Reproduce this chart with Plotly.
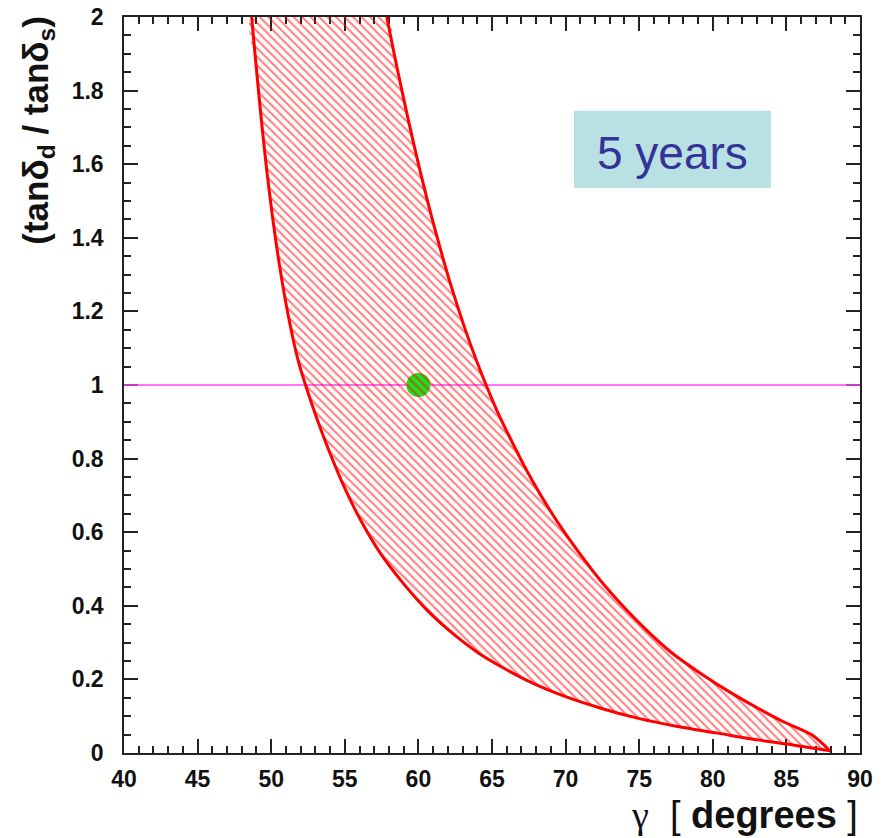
import plotly.graph_objects as go

# Allowed band: lower edge (left curve) and upper edge (right curve)
lower_gamma = [48.67, 48.98, 49.31, 49.67, 50.09, 50.58, 51.17, 51.82, 52.33, 53.18,
               54.00, 54.95, 56.07, 57.41, 58.97, 60.79, 62.60, 64.10, 65.60, 67.80,
               70.00, 72.45, 74.95, 77.60, 80.30, 83.15, 85.45, 87.96]
lower_ratio = [2.000, 1.865, 1.729, 1.593, 1.457, 1.321, 1.186, 1.068, 1.000, 0.900,
               0.814, 0.724, 0.633, 0.543, 0.461, 0.380, 0.316, 0.271, 0.235, 0.189,
               0.153, 0.121, 0.094, 0.072, 0.054, 0.035, 0.022, 0.006]

upper_gamma = [57.85, 58.35, 59.02, 59.62, 60.21, 60.90, 61.51, 62.17, 63.12, 63.93,
               64.60, 65.32, 66.18, 67.34, 68.38, 69.66, 70.94, 72.34, 73.72, 75.50,
               77.25, 79.00, 81.30, 83.10, 84.80, 86.70, 87.96]
upper_ratio = [2.000, 1.901, 1.774, 1.666, 1.566, 1.457, 1.367, 1.276, 1.158, 1.068,
               1.000, 0.932, 0.860, 0.769, 0.696, 0.615, 0.543, 0.470, 0.407, 0.334,
               0.271, 0.221, 0.162, 0.121, 0.085, 0.050, 0.006]

# Reference point and reference line
point_gamma = [60.0]
point_ratio = [1.0]
ref_gamma = [40.0, 90.0]
ref_ratio = [1.0, 1.0]

# Axis ticks
x_ticks = [40, 45, 50, 55, 60, 65, 70, 75, 80, 85, 90]
x_labels = ["40", "45", "50", "55", "60", "65", "70", "75", "80", "85", "90"]
y_ticks = [0, 0.2, 0.4, 0.6, 0.8, 1.0, 1.2, 1.4, 1.6, 1.8, 2.0]
y_labels = ["0", "0.2", "0.4", "0.6", "0.8", "1", "1.2", "1.4", "1.6", "1.8", "2"]

label_text = "5 years"
label_box = [70.57, 83.95, 1.535, 1.745]  # x0, x1, y0, y1

fig = go.Figure()

fig.add_trace(go.Scatter(x=ref_gamma, y=ref_ratio, mode="lines",
                         line=dict(color="#ff44ff", width=1.5), hoverinfo="skip"))

fig.add_trace(go.Scatter(x=point_gamma, y=point_ratio, mode="markers",
                         marker=dict(color="#22dd22", size=24, line=dict(width=0))))

band_x = lower_gamma + upper_gamma[::-1] + [lower_gamma[0]]
band_y = lower_ratio + upper_ratio[::-1] + [lower_ratio[0]]
fig.add_trace(go.Scatter(x=band_x, y=band_y, mode="lines", fill="toself",
                         line=dict(width=0, color="rgba(0,0,0,0)", shape="spline",
                                   smoothing=0.8),
                         fillcolor="rgba(0,0,0,0)",
                         fillpattern=dict(shape="\\", fgcolor="#ff0000",
                                          bgcolor="rgba(0,0,0,0)", size=6,
                                          solidity=0.35)))

for gx, gy in ((lower_gamma, lower_ratio), (upper_gamma, upper_ratio)):
    fig.add_trace(go.Scatter(x=gx, y=gy, mode="lines",
                             line=dict(color="#ff0000", width=3, shape="spline",
                                       smoothing=0.8)))

fig.add_shape(type="rect", xref="x", yref="y",
              x0=label_box[0], x1=label_box[1], y0=label_box[2], y1=label_box[3],
              fillcolor="#b9e0e3", line=dict(width=0), layer="below")
fig.add_annotation(x=(label_box[0] + label_box[1]) / 2,
                   y=(label_box[2] + label_box[3]) / 2,
                   xref="x", yref="y", text=label_text, showarrow=False,
                   font=dict(family="Liberation Sans, Arial", size=46, color="#333399"),
                   yshift=-4)

axis_common = dict(
    ticks="inside", ticklen=14, tickwidth=1.5, tickcolor="#222",
    showline=True, linewidth=1.5, linecolor="#222", mirror="allticks",
    showgrid=False, zeroline=False, automargin=False, layer="below traces",
    tickfont=dict(family="Liberation Sans, Arial", size=23, color="#111", weight="bold"),
)

fig.update_xaxes(range=[40, 90], tickmode="array", tickvals=x_ticks, ticktext=x_labels,
                 minor=dict(ticks="inside", ticklen=7, dtick=1, tickwidth=1.5,
                            tickcolor="#222", showgrid=False),
                 ticklabelstandoff=5, **axis_common)
fig.update_yaxes(range=[0, 2], tickmode="array", tickvals=y_ticks, ticktext=y_labels,
                 minor=dict(ticks="inside", ticklen=7, dtick=0.05, tickwidth=1.5,
                            tickcolor="#222", showgrid=False),
                 ticklabelstandoff=14, **axis_common)

# Axis titles, anchored to the far ends of the axes
fig.add_annotation(xref="paper", yref="paper", x=1.0, y=-0.084, xanchor="right",
                   yanchor="middle", showarrow=False,
                   text="<span style='font-family:Liberation Serif'>γ</span>  [ <b>degrees</b> ]",
                   font=dict(family="Liberation Sans, Arial", size=38, color="#111"))
fig.add_annotation(xref="paper", yref="paper", x=-0.117, y=1.005, xanchor="center",
                   yanchor="top", textangle=-90, showarrow=False,
                   text="<b>(tanδ<sub>d</sub> / tanδ<sub>s</sub>)</b>",
                   font=dict(family="Liberation Sans, Arial", size=35, color="#111"))

fig.update_layout(
    width=883, height=838,
    margin=dict(l=124, r=23, t=17, b=85),
    paper_bgcolor="white", plot_bgcolor="white",
    showlegend=False,
)

fig.write_html("out.html")
